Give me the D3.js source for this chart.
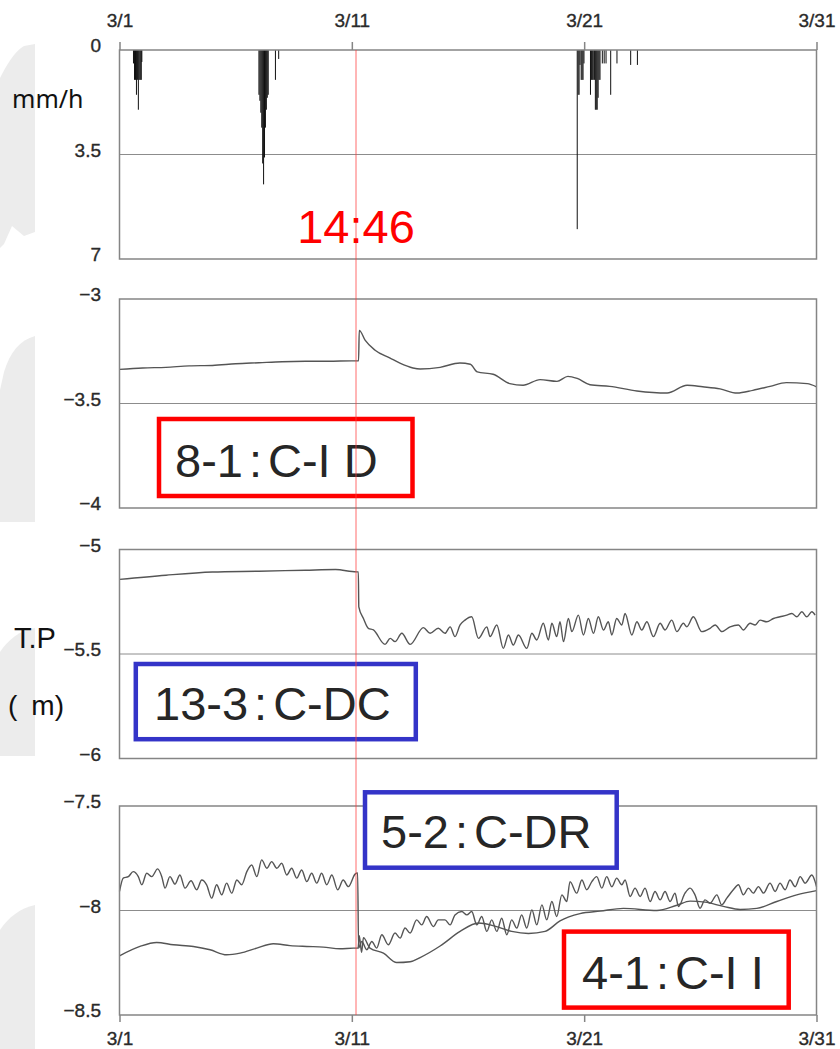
<!DOCTYPE html>
<html>
<head>
<meta charset="utf-8">
<script src="https://cdn.jsdelivr.net/npm/d3@7"></script>
<style>
  body { margin: 0; background: #fff; }
  svg { display: block; }
</style>
</head>
<body>
<div id="chart"></div>
<script>
// ==================== data ==================== //
// time is counted in days from 3/1 0:00

const dateTicks = [0, 10, 20, 30];
const dateLabels = ["3/1", "3/11", "3/21", "3/31"];
const quakeDay = 10.18;
const quakeLabel = "14:46";

// hourly rainfall, mm/h
const rainTicks = [0, 3.5, 7];
const rain = [
  [0.58, 0.45], [0.625, 1.0], [0.667, 1.0], [0.708, 1.5], [0.75, 1.0], [0.79, 2.0],
  [0.83, 1.0], [0.875, 1.0], [0.917, 1.0], [0.94, 0.4],
  [5.98, 1.5], [6.02, 1.7], [6.06, 2.1], [6.10, 2.6], [6.14, 3.8], [6.18, 4.5],
  [6.22, 3.6], [6.26, 2.6], [6.30, 2.0], [6.34, 1.6], [6.38, 1.5], [6.69, 1.0], [6.83, 0.3],
  [19.68, 6.0], [19.72, 1.5], [19.76, 1.5], [19.80, 0.5], [19.85, 1.0], [19.89, 1.0],
  [19.93, 1.0], [19.97, 0.45],
  [20.25, 1.5], [20.29, 1.0], [20.33, 1.0], [20.37, 1.0], [20.42, 1.0], [20.46, 2.0],
  [20.50, 2.0], [20.54, 2.0], [20.58, 1.6], [20.62, 1.0], [20.66, 1.0],
  [20.76, 0.45], [20.84, 0.45], [20.92, 0.45], [21.12, 1.5], [21.39, 0.45],
  [21.98, 0.5], [22.27, 0.5]
];

// groundwater level T.P (m)
const id81Ticks = [-3, -3.5, -4];
const id81 = [
  [0, -3.337], [1, -3.33], [2, -3.327], [3, -3.32], [4, -3.318], [5, -3.31], [6, -3.305],
  [7, -3.30], [8, -3.298], [9, -3.298], [10, -3.296], [10.29, -3.296], [10.32, -3.15],
  [10.57, -3.197], [11.0, -3.245], [11.65, -3.283], [12.07, -3.307], [12.63, -3.33],
  [12.94, -3.335], [13.8, -3.327], [14.65, -3.306], [15.1, -3.312], [15.4, -3.349],
  [16.08, -3.36], [16.8, -3.405], [17.37, -3.413], [18.1, -3.386], [18.83, -3.394],
  [19.3, -3.37], [19.7, -3.38], [20.25, -3.41], [21.1, -3.418], [22.27, -3.44],
  [23.57, -3.45], [24.43, -3.413], [25.1, -3.42], [25.85, -3.43], [26.58, -3.45],
  [27.26, -3.437], [28, -3.418], [28.7, -3.40], [29.6, -3.405], [30, -3.42]
];

const dc133Ticks = [-5, -5.5, -6];
const dc133 = [
  [0, -5.143], [2.0, -5.123], [4.0, -5.108], [6.0, -5.104], [8.0, -5.099], [9.3, -5.096],
  [10.2, -5.107], [10.28, -5.107], [10.30, -5.274], [10.50, -5.33], [10.71, -5.377],
  [10.93, -5.385], [11.43, -5.454], [11.65, -5.425], [11.86, -5.441], [12.15, -5.401],
  [12.51, -5.454], [13.08, -5.374], [13.37, -5.401], [13.72, -5.377], [14.01, -5.401],
  [14.23, -5.37], [14.44, -5.417], [14.66, -5.361], [14.87, -5.338], [15.16, -5.322],
  [15.45, -5.425], [15.81, -5.37], [15.95, -5.417], [16.24, -5.361], [16.52, -5.473],
  [16.74, -5.409], [16.95, -5.457], [17.17, -5.409], [17.53, -5.473], [17.75, -5.401],
  [17.96, -5.433], [18.24, -5.353], [18.46, -5.433], [18.61, -5.353], [18.82, -5.417],
  [18.96, -5.346], [19.11, -5.441], [19.32, -5.33], [19.47, -5.393], [19.75, -5.314],
  [19.97, -5.409], [20.18, -5.33], [20.40, -5.401], [20.61, -5.322], [20.83, -5.385],
  [21.04, -5.346], [21.19, -5.409], [21.40, -5.33], [21.62, -5.361], [21.76, -5.306],
  [22.05, -5.409], [22.27, -5.346], [22.48, -5.385], [22.70, -5.346], [22.98, -5.417],
  [23.27, -5.353], [23.48, -5.385], [23.77, -5.338], [23.99, -5.393], [24.27, -5.353],
  [24.42, -5.37], [24.70, -5.322], [25.06, -5.393], [25.42, -5.377], [25.64, -5.361],
  [25.93, -5.393], [26.28, -5.37], [26.64, -5.361], [26.85, -5.385], [27.14, -5.353],
  [27.36, -5.361], [27.57, -5.338], [27.86, -5.346], [28.15, -5.33], [28.43, -5.322],
  [28.72, -5.314], [28.94, -5.306], [29.15, -5.322], [29.37, -5.298], [29.58, -5.322],
  [29.80, -5.298], [29.94, -5.314]
];

const lowTicks = [-7.5, -8, -8.5];
const dr52 = [
  [0, -7.909], [0.16, -7.845], [0.38, -7.838], [0.59, -7.814], [0.81, -7.838], [0.96, -7.877],
  [1.17, -7.822], [1.39, -7.838], [1.64, -7.801], [1.82, -7.838], [1.96, -7.893], [2.17, -7.838],
  [2.39, -7.874], [2.60, -7.83], [2.82, -7.893], [3.08, -7.858], [3.32, -7.901], [3.54, -7.854],
  [3.75, -7.877], [3.97, -7.941], [4.18, -7.877], [4.40, -7.925], [4.61, -7.869], [4.83, -7.917],
  [5.05, -7.854], [5.26, -7.877], [5.48, -7.814], [5.69, -7.782], [5.91, -7.838], [6.12, -7.758],
  [6.34, -7.798], [6.55, -7.766], [6.77, -7.798], [6.98, -7.774], [7.20, -7.83], [7.41, -7.798],
  [7.63, -7.845], [7.84, -7.806], [8.06, -7.862], [8.27, -7.822], [8.49, -7.869], [8.70, -7.822],
  [8.92, -7.877], [9.14, -7.83], [9.39, -7.901], [9.63, -7.854], [9.85, -7.886], [10.14, -7.826],
  [10.25, -7.82], [10.29, -8.18], [10.43, -8.148], [10.64, -8.188], [10.86, -8.148], [11.07, -8.18],
  [11.29, -8.116], [11.57, -8.164], [11.86, -8.108], [12.08, -8.132], [12.29, -8.084], [12.51, -8.108],
  [12.79, -8.045], [13.01, -8.069], [13.22, -8.029], [13.51, -8.077], [13.72, -8.045], [14.01, -8.045],
  [14.23, -8.069], [14.44, -8.021], [14.73, -8.005], [14.95, -8.021], [15.16, -8.005], [15.38, -8.069],
  [15.59, -8.029], [15.81, -8.10], [16.02, -8.045], [16.24, -8.10], [16.45, -8.037], [16.67, -8.116],
  [16.88, -8.045], [17.10, -8.084], [17.31, -8.021], [17.53, -8.084], [17.75, -7.997], [17.96, -8.069],
  [18.18, -7.973], [18.39, -8.045], [18.61, -7.957], [18.82, -8.029], [19.04, -7.925], [19.25, -7.957],
  [19.39, -7.862], [19.68, -7.917], [19.90, -7.854], [20.11, -7.901], [20.33, -7.862], [20.54, -7.838],
  [20.76, -7.893], [20.97, -7.838], [21.19, -7.886], [21.40, -7.845], [21.62, -7.877], [21.76, -7.854],
  [21.98, -7.933], [22.19, -7.893], [22.41, -7.933], [22.62, -7.893], [22.84, -7.957], [23.05, -7.909],
  [23.27, -7.949], [23.48, -7.909], [23.70, -7.957], [23.91, -7.917], [24.06, -7.981], [24.34, -7.917],
  [24.56, -7.893], [24.77, -7.925], [24.99, -7.989], [25.20, -7.949], [25.42, -7.965], [25.71, -7.925],
  [25.92, -7.973], [26.14, -7.941], [26.42, -7.901], [26.64, -7.877], [26.85, -7.925], [27.07, -7.893],
  [27.28, -7.917], [27.50, -7.886], [27.72, -7.917], [28.00, -7.869], [28.22, -7.909], [28.43, -7.869],
  [28.65, -7.901], [28.86, -7.854], [29.08, -7.886], [29.30, -7.838], [29.51, -7.869], [29.80, -7.83],
  [29.94, -7.862], [30, -7.886]
];
const ii41 = [
  [0, -8.217], [0.88, -8.172], [1.60, -8.153], [2.32, -8.164], [3.18, -8.172], [3.90, -8.188],
  [4.61, -8.212], [5.19, -8.204], [5.91, -8.18], [6.62, -8.159], [7.34, -8.168], [8.06, -8.172],
  [8.77, -8.175], [9.49, -8.183], [10.07, -8.18], [10.27, -8.18], [10.32, -8.12], [10.42, -8.20],
  [10.50, -8.13], [10.78, -8.18], [11.36, -8.204], [11.93, -8.249], [12.51, -8.245], [12.94, -8.225],
  [13.80, -8.17], [14.66, -8.10], [15.45, -8.06], [16.16, -8.075], [16.88, -8.10], [17.60, -8.11],
  [18.32, -8.10], [18.96, -8.05], [19.82, -8.015], [20.69, -8.003], [21.69, -7.99], [23.13, -8.0],
  [23.99, -7.975], [24.56, -7.955], [25.20, -7.96], [25.99, -7.98], [26.71, -7.995], [27.43, -7.99],
  [28.29, -7.957], [29.15, -7.925], [30, -7.905]
];

const wellLabels = ["8-1:C-I D", "13-3:C-DC", "5-2:C-DR", "4-1:C-I I"];

// ==================== drawing ==================== //

const width = 840, height = 1049;
const font = "'Liberation Sans', Arial, sans-serif";
const panelH = 209;

const svg = d3.select("#chart").append("svg")
    .attr("width", width)
    .attr("height", height);

// faint map in the background, left edge
const bg = svg.append("g").attr("fill", "#ececec");
bg.append("path").attr("d", "M0,78 C6,66 14,52 24,46 L35,44 L35,232 L24,236 L12,226 L4,244 L0,248 Z");
bg.append("path").attr("d", "M4,372 C10,352 20,340 35,336 L35,522 L0,522 L0,390 Z");
bg.append("path").attr("d", "M0,652 C8,640 20,630 35,628 L35,756 L0,756 Z");
bg.append("path").attr("d", "M0,930 C8,918 20,908 35,905 L35,1049 L0,1049 Z");

const x = d3.scaleLinear().domain([0, 30]).range([119.5, 816.5]);

const panels = [
    { top: 50, ticks: rainTicks, series: [] },
    { top: 299, ticks: id81Ticks, series: [id81] },
    { top: 549.5, ticks: dc133Ticks, series: [dc133] },
    { top: 806, ticks: lowTicks, series: [dr52, ii41] }
];

function styleTickText(sel) {
    sel.attr("fill", "#2a2a2a")
        .attr("stroke", "#2a2a2a")
        .attr("stroke-width", 0.35)
        .attr("font-family", font)
        .attr("font-size", 19);
}

panels.forEach((p, i) => {
    const y = d3.scaleLinear()
        .domain([p.ticks[0], p.ticks[2]])
        .range([p.top, p.top + panelH]);
    const g = svg.append("g");

    // middle reference line
    g.append("line")
        .attr("x1", x(0)).attr("x2", x(30))
        .attr("y1", y(p.ticks[1])).attr("y2", y(p.ticks[1]))
        .attr("stroke", "#8c8c8c").attr("stroke-width", 1);

    g.append("g")
        .attr("transform", `translate(${x(0)},0)`)
        .call(d3.axisLeft(y).tickValues(p.ticks).tickSize(0).tickPadding(18.5)
            .tickFormat(d3.format("")))
        .call(a => a.select(".domain").remove())
        .call(a => a.selectAll("text").attr("dy", "0.08em").call(styleTickText));

    if (i === 0) {
        g.selectAll("rect.bar")
            .data(rain)
            .join("rect")
            .attr("class", "bar")
            .attr("x", d => x(d[0]))
            .attr("width", d => Math.max(1, x(d[0] + 1 / 24) - x(d[0])))
            .attr("y", y(0))
            .attr("height", d => y(d[1]) - y(0))
            .attr("fill", "#111");
    }

    const line = d3.line()
        .x(d => x(d[0]))
        .y(d => y(d[1]))
        .curve(d3.curveMonotoneX);
    p.series.forEach(s => {
        g.append("path")
            .attr("d", line(s))
            .attr("fill", "none")
            .attr("stroke", "#555")
            .attr("stroke-width", 1.4)
            .attr("stroke-linejoin", "round");
    });

    g.append("rect")
        .attr("x", x(0)).attr("y", p.top)
        .attr("width", x(30) - x(0)).attr("height", panelH)
        .attr("fill", "none")
        .attr("stroke", "#858585")
        .attr("stroke-width", 1.5);
});

// date axes, top of the first panel and bottom of the last
function styleDates(a) {
    a.select(".domain").remove();
    a.selectAll("line").attr("stroke", "#858585").attr("stroke-width", 1.5);
    a.selectAll("text").call(styleTickText);
}

svg.append("g")
    .attr("transform", `translate(0,${panels[0].top})`)
    .call(d3.axisTop(x).tickValues(dateTicks).tickSize(8).tickPadding(15.5)
        .tickFormat((d, i) => dateLabels[i]))
    .call(styleDates);

svg.append("g")
    .attr("transform", `translate(0,${panels[3].top + panelH})`)
    .call(d3.axisBottom(x).tickValues(dateTicks).tickSize(7).tickPadding(9.5)
        .tickFormat((d, i) => dateLabels[i]))
    .call(styleDates);

// well name boxes
const boxes = [
    { name: wellLabels[0], color: "#ff0000", box: [159, 419, 253.5, 77], tx: 175, ty: 477 },
    { name: wellLabels[1], color: "#3434c8", box: [135.8, 664, 280, 75.2], tx: 154, ty: 720 },
    { name: wellLabels[2], color: "#3434c8", box: [365, 792.3, 251.7, 75.4], tx: 381, ty: 848 },
    { name: wellLabels[3], color: "#ff0000", box: [564, 931.6, 224.7, 76], tx: 582, ty: 989 }
];

boxes.forEach(b => {
    svg.append("rect")
        .attr("x", b.box[0]).attr("y", b.box[1])
        .attr("width", b.box[2]).attr("height", b.box[3])
        .attr("fill", "#fff")
        .attr("stroke", b.color)
        .attr("stroke-width", 4.5);
    const [before, after] = b.name.split(":");
    const t = svg.append("text")
        .attr("x", b.tx).attr("y", b.ty)
        .attr("font-family", font)
        .attr("font-size", 47)
        .attr("fill", "#262626");
    t.append("tspan").text(before);
    t.append("tspan").attr("dx", 6).text(":");
    t.append("tspan").attr("dx", 6).text(after);
});

// earthquake marker
svg.append("line")
    .attr("x1", x(quakeDay)).attr("x2", x(quakeDay))
    .attr("y1", panels[0].top).attr("y2", panels[3].top + panelH)
    .attr("stroke", "rgba(255,60,60,0.75)")
    .attr("stroke-width", 1);

svg.append("text")
    .attr("x", x(quakeDay)).attr("y", 243)
    .attr("text-anchor", "middle")
    .attr("font-family", font)
    .attr("font-size", 47)
    .attr("fill", "#ff0000")
    .text(quakeLabel);

// unit labels
svg.append("text")
    .attr("x", 12).attr("y", 108)
    .attr("font-family", "'Noto Sans', sans-serif").attr("font-size", 25)
    .attr("fill", "#111")
    .text("mm/h");

svg.append("text")
    .attr("x", 14).attr("y", 648)
    .attr("font-family", font).attr("font-size", 29)
    .attr("fill", "#111")
    .text("T.P");

svg.append("text")
    .attr("x", 8).attr("y", 715)
    .attr("font-family", font).attr("font-size", 28)
    .attr("fill", "#111")
    .text("(\u2002m)");
</script>
</body>
</html>
